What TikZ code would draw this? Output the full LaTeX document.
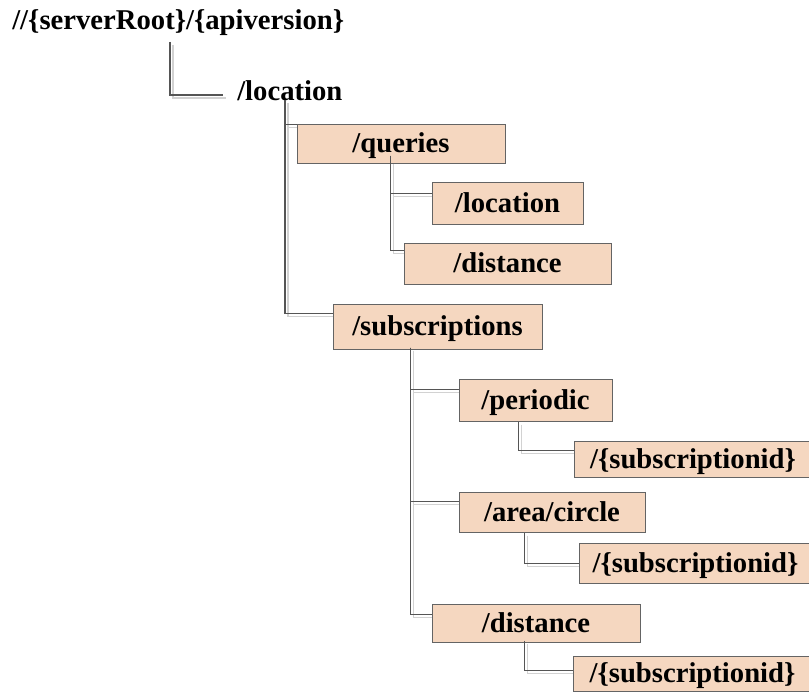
\documentclass[tikz,border=0pt]{standalone}
\usepackage{fontspec}
\setmainfont{Liberation Serif}
\usetikzlibrary{calc}
\pgfdeclarelayer{bg}
\pgfsetlayers{bg,main}

\definecolor{boxfill}{RGB}{245,215,192}
\definecolor{boxline}{RGB}{100,100,100}
\definecolor{linkcol}{RGB}{85,85,85}
\definecolor{linkshade}{RGB}{210,210,210}

\tikzset{
  x=0.75pt, y=-0.75pt,
  every node/.style={font=\fontsize{21.5pt}{24pt}\selectfont\bfseries},
  plain/.style={inner sep=0pt, anchor=base west},
  treebox/.style={draw=boxline, line width=0.75pt, fill=boxfill, inner sep=0pt,
    text height=16pt, text depth=2pt},
  link/.style={draw=linkcol, line width=0.8pt},
  linkshadow/.style={draw=linkshade, line width=1.3pt},
}

% box from (x1,y1) to (x2,y2), y downward
\newcommand\treebox[6]{%
  \pgfmathsetmacro\tbw{(#4-#2)*0.75}%
  \pgfmathsetmacro\tbh{(#5-#3)*0.75}%
  \node[treebox, minimum width=\tbw pt, minimum height=\tbh pt]
    (#1) at ({(#2+#4)/2},{(#3+#5)/2}) {#6};}

% elbow connector with a soft offset shadow underneath
\newcommand\treelink[2]{%
  \begin{pgfonlayer}{bg}
    \path[linkshadow, transform canvas={shift={(2.25pt,-2.25pt)}}] #1 |- #2;
  \end{pgfonlayer}
  \path[link] #1 |- #2;}

\begin{document}
\begin{tikzpicture}
\clip (0,0) rectangle (809,692);

\node[plain] (root) at (12,30) {//\{serverRoot\}/\{apiversion\}};
\node[plain] (loc) at (237,100) {/location};

\treebox{q}{297}{124}{505}{163}{/queries}
\treebox{qloc}{432}{182}{583}{224}{/location}
\treebox{qdist}{404}{243}{611}{284}{/distance}
\treebox{s}{333}{304}{542}{349}{/subscriptions}
\treebox{per}{459}{379}{612}{421}{/periodic}
\treebox{perid}{574}{441}{812}{477}{/\{subscriptionid\}}
\treebox{area}{459}{492}{645}{532}{/area/circle}
\treebox{areaid}{579}{543}{812}{583}{/\{subscriptionid\}}
\treebox{sdist}{432}{604}{640}{642}{/distance}
\treebox{sdistid}{573}{656}{812}{691}{/\{subscriptionid\}}

\treelink{($(root.base west)+(158,12)$)}{($(loc.base west)+(-14,-5)$)}
\treelink{($(loc.base west)+(48,0)$)}{($(q.north west)+(0,1)$)}
\treelink{($(loc.base west)+(48,0)$)}{($(s.north west)+(0,10)$)}
\treelink{($(q.south west)+(94,-8)$)}{($(qloc.north west)+(0,12)$)}
\treelink{($(q.south west)+(94,-8)$)}{($(qdist.north west)+(0,8)$)}
\treelink{($(s.south west)+(78,-2)$)}{($(per.north west)+(0,11)$)}
\treelink{($(s.south west)+(78,-2)$)}{($(area.north west)+(0,10)$)}
\treelink{($(s.south west)+(78,-2)$)}{($(sdist.north west)+(0,11)$)}
\treelink{($(per.south west)+(60,0)$)}{($(perid.north west)+(0,10)$)}
\treelink{($(area.south west)+(66,0)$)}{($(areaid.north west)+(0,21)$)}
\treelink{($(sdist.south west)+(93,-2)$)}{($(sdistid.north west)+(0,15)$)}
\end{tikzpicture}
\end{document}
